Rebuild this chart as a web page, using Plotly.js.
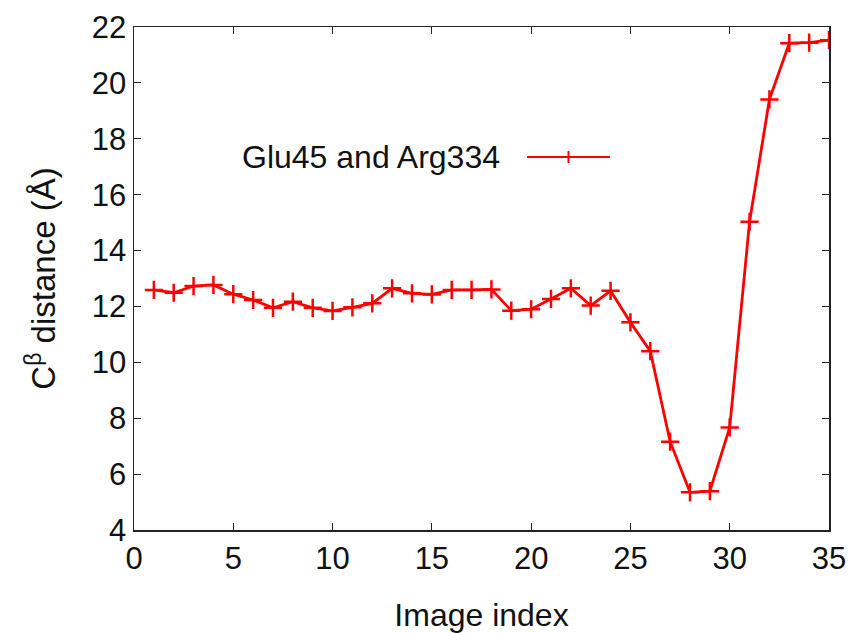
<!DOCTYPE html>
<html>
<head>
<meta charset="utf-8">
<script src="https://cdn.plot.ly/plotly-3.0.1.min.js"></script>
<style>html,body{margin:0;padding:0;background:#fff;}#chart{width:850px;height:633px;}</style>
</head>
<body>
<div id="chart"></div>
<script>
const imageIndex = [1,2,3,4,5,6,7,8,9,10,11,12,13,14,15,16,17,18,19,20,21,22,23,24,25,26,27,28,29,30,31,32,33,34,35];
const distance = [12.59,12.49,12.73,12.77,12.44,12.23,11.95,12.17,11.95,11.84,11.97,12.11,12.65,12.47,12.43,12.59,12.59,12.61,11.85,11.90,12.27,12.65,12.03,12.56,11.43,10.40,7.16,5.35,5.39,7.67,15.03,19.41,21.42,21.44,21.53];
const seriesName = 'Glu45 and Arg334';
const xTicks = [0,5,10,15,20,25,30,35];
const yTicks = [4,6,8,10,12,14,16,18,20,22];

const font = 'Liberation Sans, Arial, sans-serif';
const trace = {
  x: imageIndex, y: distance, type: 'scatter', mode: 'lines+markers', name: seriesName,
  line: {color: '#ff0000', width: 2.8},
  marker: {symbol: 'cross-thin', size: 13, color: '#ff0000', line: {color: '#ff0000', width: 2.5}},
  showlegend: false
};
const axisCommon = {
  showgrid: false, zeroline: false, showline: true, mirror: 'allticks',
  linecolor: '#222', linewidth: 1.5, ticks: 'inside', ticklen: 7, tickwidth: 1.2, tickcolor: '#222',
  tickfont: {family: font, size: 31, color: '#111'}
};
const layout = {
  width: 850, height: 633,
  margin: {l: 134, r: 21, t: 27, b: 103},
  paper_bgcolor: '#fff', plot_bgcolor: '#fff',
  xaxis: Object.assign({}, axisCommon, {
    range: [0, 35], tickvals: xTicks, ticktext: xTicks.map(String),
    title: {text: 'Image index', font: {family: font, size: 32, color: '#111'}, standoff: 30}
  }),
  yaxis: Object.assign({}, axisCommon, {
    range: [4, 22], tickvals: yTicks, ticktext: yTicks.map(String),
    title: {text: 'C<sup>β</sup> distance (Å)', font: {family: font, size: 33, color: '#111'}, standoff: 26}
  }),
  annotations: [{
    xref: 'paper', yref: 'paper', x: 0.1525, y: 0.7416, xanchor: 'left', yanchor: 'middle',
    text: seriesName, showarrow: false, font: {family: font, size: 32, color: '#111'}
  }],
  shapes: [
    {type: 'line', xref: 'paper', yref: 'paper', x0: 0.5655, x1: 0.6849, y0: 0.7416, y1: 0.7416, line: {color: '#ff0000', width: 2}},
    {type: 'line', xref: 'paper', yref: 'paper', x0: 0.6252, x1: 0.6252, y0: 0.7296, y1: 0.7536, line: {color: '#ff0000', width: 2}}
  ]
};
Plotly.newPlot('chart', [trace], layout, {displayModeBar: false, staticPlot: true});
</script>
</body>
</html>
